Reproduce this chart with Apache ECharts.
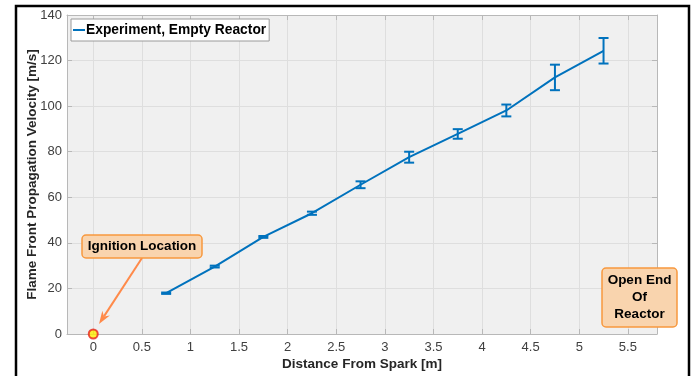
<!DOCTYPE html>
<html>
<head>
<meta charset="utf-8">
<script src="https://cdn.jsdelivr.net/npm/echarts@6/dist/echarts.min.js"></script>
<style>html,body{margin:0;padding:0;background:#fff;}#c{width:694px;height:376px;}</style>
</head>
<body>
<div id="c"></div>
<script>
const distances = [0.75, 1.25, 1.75, 2.25, 2.75, 3.25, 3.75, 4.25, 4.75, 5.25];
const velocities = [17.9, 29.6, 42.6, 53.0, 65.5, 77.6, 87.8, 98.1, 112.6, 124.3];
const errors = [0.3, 0.4, 0.4, 0.7, 1.5, 2.4, 2.1, 2.6, 5.6, 5.6];
const xTicks = [0, 0.5, 1, 1.5, 2, 2.5, 3, 3.5, 4, 4.5, 5, 5.5];
const ignitionPoint = [[0, 0]];

const BLUE = '#0072BD';
const chart = echarts.init(document.getElementById('c'), null, {renderer: 'canvas'});
const font = '"Liberation Sans", Arial, Helvetica, sans-serif';
const axisCol = '#b8b8b8';
const gridCol = '#dedede';

const lineData = distances.map((d, i) => [d, velocities[i]]);
const errData = distances.map((d, i) => [d, velocities[i] - errors[i], velocities[i] + errors[i]]);

function xAxisCfg(pos, show) {
  return {
    type: 'value', position: pos, min: -0.27, max: 5.8,
    axisLine: {show: true, onZero: false, lineStyle: {color: axisCol, width: 1}},
    axisTick: {show: true, inside: true, length: 5, customValues: xTicks, lineStyle: {color: axisCol}},
    axisLabel: {show: show, customValues: xTicks, color: '#404040', fontSize: 13, fontFamily: font, margin: 7},
    splitLine: {show: show, lineStyle: {color: gridCol, width: 1}},
    name: show ? 'Distance From Spark [m]' : '', nameLocation: 'middle', nameGap: 23, nameMoveOverlap: false,
    nameTextStyle: {color: '#262626', fontSize: 13.5, fontWeight: 'bold', fontFamily: font}
  };
}
function yAxisCfg(pos, show) {
  return {
    type: 'value', position: pos, min: 0, max: 140, interval: 20,
    axisLine: {show: true, onZero: false, lineStyle: {color: axisCol, width: 1}},
    axisTick: {show: true, inside: true, length: 5, lineStyle: {color: axisCol}},
    axisLabel: {show: show, color: '#404040', fontSize: 13, fontFamily: font, margin: 5},
    splitLine: {show: show, lineStyle: {color: gridCol, width: 1}},
    name: show ? 'Flame Front Propagation Velocity [m/s]' : '', nameLocation: 'middle', nameGap: 28, nameMoveOverlap: false,
    nameTextStyle: {color: '#262626', fontSize: 13.5, fontWeight: 'bold', fontFamily: font}
  };
}

// arrow geometry for annotation
const ax0 = 142, ay0 = 258, ax1 = 99, ay1 = 324;
const dx = ax1 - ax0, dy = ay1 - ay0, L = Math.hypot(dx, dy);
const ux = dx / L, uy = dy / L, px = -uy, py = ux;
const hl = 13, hw = 4.5;
const bx = ax1 - ux * hl, by = ay1 - uy * hl;
const notchX = ax1 - ux * hl * 0.7, notchY = ay1 - uy * hl * 0.7;

chart.setOption({
  animation: false,
  backgroundColor: '#ffffff',
  grid: {left: 67, top: 15, width: 590, height: 319, show: true, backgroundColor: '#f0f0f0', borderWidth: 0},
  xAxis: [xAxisCfg('bottom', true), xAxisCfg('top', false)],
  yAxis: [yAxisCfg('left', true), yAxisCfg('right', false)],
  legend: {
    left: 71, top: 19, orient: 'vertical',
    backgroundColor: '#ffffff', borderColor: '#9a9a9a', borderWidth: 1, borderRadius: 0,
    padding: [4, 3, 4, 2], itemGap: 0, itemWidth: 12, itemHeight: 2,
    textStyle: {color: '#000', fontWeight: 'bold', fontSize: 13.8, fontFamily: font, padding: [0, 0, 0, -4]},
    data: [{name: 'Experiment, Empty Reactor', icon: 'rect'}]
  },
  series: [
    {
      name: 'Experiment, Empty Reactor', type: 'line', data: lineData,
      symbol: 'none', lineStyle: {color: BLUE, width: 2}, itemStyle: {color: BLUE}, z: 3
    },
    {
      name: 'err', type: 'custom', data: errData, z: 4,
      renderItem: function (params, api) {
        const x = api.value(0);
        const lo = api.coord([x, api.value(1)]);
        const hi = api.coord([x, api.value(2)]);
        const cw = 5;
        const st = {stroke: BLUE, lineWidth: 2};
        return {
          type: 'group', children: [
            {type: 'line', shape: {x1: lo[0], y1: lo[1], x2: hi[0], y2: hi[1]}, style: st},
            {type: 'line', shape: {x1: lo[0] - cw, y1: lo[1], x2: lo[0] + cw, y2: lo[1]}, style: st},
            {type: 'line', shape: {x1: hi[0] - cw, y1: hi[1], x2: hi[0] + cw, y2: hi[1]}, style: st}
          ]
        };
      }
    },
    {
      name: 'ignition', type: 'scatter', data: ignitionPoint, symbol: 'circle', symbolSize: 9,
      itemStyle: {color: '#ffee00', borderColor: '#e8201a', borderWidth: 2}, z: 6, clip: false
    }
  ],
  graphic: [
    {type: 'rect', shape: {x: 16, y: 6, width: 673, height: 380}, style: {fill: 'none', stroke: '#000', lineWidth: 2.5}, z: 100, silent: true},
    {type: 'line', shape: {x1: ax0, y1: ay0, x2: notchX, y2: notchY}, style: {stroke: '#ff8a4a', lineWidth: 2}, z: 50},
    {type: 'polygon', shape: {points: [[ax1, ay1], [bx + px * hw, by + py * hw], [notchX, notchY], [bx - px * hw, by - py * hw]]}, style: {fill: '#ff8a4a'}, z: 50},
    {type: 'rect', shape: {x: 82, y: 235, width: 120, height: 23, r: 4}, style: {fill: '#f9d4ae', stroke: '#f7983e', lineWidth: 1.5}, z: 51},
    {type: 'text', x: 142, y: 246.5, style: {text: 'Ignition Location', font: 'bold 13.5px ' + font, fill: '#000', align: 'center', verticalAlign: 'middle'}, z: 52},
    {type: 'rect', shape: {x: 602, y: 268, width: 75, height: 59, r: 4}, style: {fill: '#f9d4ae', stroke: '#f7983e', lineWidth: 1.5}, z: 51},
    {type: 'text', x: 639.5, y: 297.5, style: {text: 'Open End\nOf\nReactor', font: 'bold 13.5px ' + font, lineHeight: 17, fill: '#000', align: 'center', verticalAlign: 'middle'}, z: 52}
  ]
});
</script>
</body>
</html>
